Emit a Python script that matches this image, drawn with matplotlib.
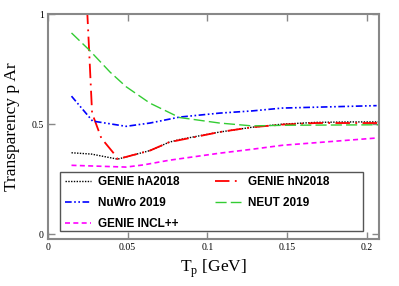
import numpy as np
import matplotlib
matplotlib.use("Agg")
from matplotlib import pyplot as plt
from matplotlib.patches import Rectangle

plt.rcParams['font.family'] = 'Liberation Serif'
plt.rcParams['mathtext.fontset'] = 'custom'
plt.rcParams['mathtext.rm'] = 'Liberation Serif'

# GENIE hA2018
x_ha = [0.0148, 0.0273, 0.0437, 0.064, 0.076, 0.0825, 0.1075, 0.128, 0.147, 0.168, 0.19, 0.207]
y_ha = [0.37, 0.364, 0.341, 0.38, 0.418, 0.43, 0.464, 0.486, 0.50, 0.508, 0.51, 0.51]
# GENIE hN2018
x_hn = [0.0246, 0.0262, 0.0277, 0.0335, 0.041, 0.0437, 0.064, 0.076, 0.1075, 0.128, 0.147, 0.168, 0.207]
y_hn = [1.02, 0.78, 0.55, 0.436, 0.37, 0.341, 0.38, 0.418, 0.464, 0.486, 0.498, 0.505, 0.505]
# NuWro 2019
x_nw = [0.0148, 0.028, 0.049, 0.064, 0.0825, 0.1075, 0.128, 0.147, 0.206]
y_nw = [0.627, 0.514, 0.49, 0.505, 0.532, 0.55, 0.56, 0.573, 0.584]
# NEUT 2019
x_ne = [0.0148, 0.026, 0.039, 0.049, 0.064, 0.0825, 0.1075, 0.128, 0.15, 0.207]
y_ne = [0.914, 0.836, 0.736, 0.67, 0.595, 0.53, 0.505, 0.492, 0.495, 0.497]
# GENIE INCL++
x_in = [0.0148, 0.049, 0.06, 0.076, 0.1075, 0.128, 0.147, 0.206]
y_in = [0.313, 0.305, 0.315, 0.336, 0.368, 0.386, 0.404, 0.437]

fig = plt.figure(figsize=(3.99, 2.86), dpi=100)
ax = fig.add_axes([0.12, 0.164, 0.83, 0.787])

ax.plot(x_ha, y_ha, color='black', ls=(0, (1, 1)), lw=1, label='GENIE hA2018')
ax.plot(x_hn, y_hn, color='red', ls=(0, (8, 3, 1, 3)), lw=1.3, label='GENIE hN2018')
ax.plot(x_nw, y_nw, color='blue', ls=(0, (4, 1.5, 1, 1.5, 1, 1.5)), lw=1.2, label='NuWro 2019')
ax.plot(x_ne, y_ne, color='#33cc33', ls=(0, (8, 3)), lw=1, label='NEUT 2019')
ax.plot(x_in, y_in, color='magenta', ls=(0, (3, 2)), lw=1.2, label='GENIE INCL++')

ax.set_xlim(0, 0.2075)
ax.set_ylim(-0.022, 1.0)
ax.set_xticks([0, 0.05, 0.1, 0.15, 0.2])
ax.set_xticklabels(['0', '0.05', '0.1', '0.15', '0.2'])
ax.set_yticks([0, 0.5, 1])
ax.set_yticklabels(['0', '0.5', '1'])
ax.tick_params(direction='in', length=5, width=1, color='#888888', labelsize=7,
               top=True, right=True, pad=3)
for s in ax.spines.values():
    s.set_color('#888888')
    s.set_linewidth(1.5)

ax.set_xlabel(r'T$_{\rm p}$ [GeV]', fontsize=12.5, labelpad=4)
ax.set_ylabel('Transparency p Ar', fontsize=12.5, labelpad=8)

# legend box drawn by hand, wider than the entries
box = Rectangle((0.036, 0.036), 0.915, 0.262, transform=ax.transAxes,
                facecolor='white', edgecolor='#555555', lw=1, zorder=4.5)
ax.add_patch(box)

handles, labels = ax.get_legend_handles_labels()
order = [0, 2, 4, 1, 3]
leg = ax.legend([handles[i] for i in order], [labels[i] for i in order], ncol=2,
                loc='lower left', bbox_to_anchor=(0.042, 0.026),
                prop={'family': 'Liberation Sans', 'weight': 'bold', 'size': 8.5},
                frameon=False, handlelength=2.2, handletextpad=0.6,
                columnspacing=3.0, labelspacing=0.75, borderpad=0.3, borderaxespad=0)

fig.savefig('out.png', dpi=100)
